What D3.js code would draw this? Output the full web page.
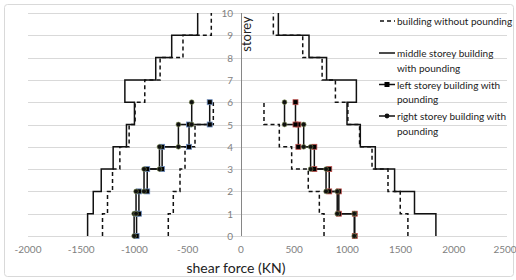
<!DOCTYPE html>
<html>
<head>
<meta charset="utf-8">
<script src="https://cdn.jsdelivr.net/npm/d3@7"></script>
<style>
  html, body { margin: 0; padding: 0; background: #fff; }
  svg { display: block; }
  text { font-family: Lato, "Open Sans", sans-serif; }
</style>
</head>
<body>
<svg id="chart" width="516" height="280"></svg>
<script>
// ---------- data ----------
const storeys = [0, 1, 2, 3, 4, 5, 6, 7, 8, 9, 10];
const xTickValues = [-2000, -1500, -1000, -500, 0, 500, 1000, 1500, 2000, 2500];

// values per storey interval, bottom (0-1) to top
const middleNoPoundNeg = [-1300, -1253, -1206, -1137, -1050, -994, -903, -759, -544, -278];
const middleNoPoundPos = [1569, 1497, 1382, 1232, 1115, 1005, 888, 763, 581, 305];
const sideNoPoundNeg = [-682, -635, -572, -525, -431, -259];
const sideNoPoundPos = [781, 737, 633, 477, 361, 217];
const middlePoundNeg = [-1440, -1387, -1312, -1200, -1075, -1000, -1090, -800, -650, -406];
const middlePoundPos = [1832, 1631, 1444, 1263, 1122, 997, 1085, 805, 640, 352];
const leftPoundNeg = [-980, -958, -880, -740, -487, -293];
const leftPoundPos = [1070, 920, 830, 690, 540, 513];
const rightPoundNeg = [-1003, -985, -910, -765, -587, -462];
const rightPoundPos = [1065, 905, 800, 655, 590, 410];

const legendLabels = [
  ["building without pounding"],
  ["middle storey building", "with pounding"],
  ["left storey building with", "pounding"],
  ["right storey building with", "pounding"]
];

// ---------- setup ----------
const svg = d3.select("#chart");
const x = d3.scaleLinear().domain([-2000, 2500]).range([28, 507]);
const y = d3.scaleLinear().domain([0, 10]).range([236, 13]);

// outer border
svg.append("rect").attr("x", 4.5).attr("y", 4.5).attr("width", 509).attr("height", 272)
  .attr("rx", 3).attr("fill", "none").attr("stroke", "#d9d9d9").attr("stroke-width", 1);

// gridlines
svg.append("g").selectAll("line").data(storeys).join("line")
  .attr("x1", x(-2000)).attr("x2", x(2500))
  .attr("y1", d => Math.round(y(d)) + 0.5).attr("y2", d => Math.round(y(d)) + 0.5)
  .attr("stroke", "#d9d9d9").attr("stroke-width", 1);

// y axis line at x = 0
svg.append("line").attr("x1", Math.round(x(0)) + 0.5).attr("x2", Math.round(x(0)) + 0.5)
  .attr("y1", y(10)).attr("y2", y(0)).attr("stroke", "#868686").attr("stroke-width", 1);

// y tick labels
svg.append("g").selectAll("text").data(storeys).join("text")
  .attr("x", 233).attr("y", d => y(d))
  .attr("text-anchor", "end").attr("dominant-baseline", "central")
  .attr("font-size", 10).attr("fill", "#7f7f7f").text(d => d);

// x tick labels
svg.append("g").selectAll("text").data(xTickValues).join("text")
  .attr("x", d => Math.min(x(d), 505)).attr("y", 249)
  .attr("text-anchor", "middle").attr("dominant-baseline", "central")
  .attr("font-size", 10).attr("fill", "#7f7f7f").text(d => d);

// axis titles
svg.append("text").attr("x", 236).attr("y", 267).attr("text-anchor", "middle")
  .attr("dominant-baseline", "central").attr("font-size", 14).attr("fill", "#222")
  .text("shear force (KN)");
svg.append("text").attr("transform", "translate(246,34) rotate(-90)")
  .attr("text-anchor", "middle").attr("dominant-baseline", "central")
  .attr("font-size", 13).attr("fill", "#222").text("storey");

// ---------- series ----------
function stepPoints(vals) {
  const pts = [];
  vals.forEach((v, i) => { pts.push([v, storeys[i]]); pts.push([v, storeys[i + 1]]); });
  return pts;
}
const line = d3.line().x(d => x(d[0])).y(d => y(d[1]));
const plot = svg.append("g");

[middleNoPoundNeg, middleNoPoundPos, sideNoPoundNeg, sideNoPoundPos].forEach(s => {
  plot.append("path").attr("d", line(stepPoints(s))).attr("fill", "none")
    .attr("stroke", "#111").attr("stroke-width", 1.5).attr("stroke-dasharray", "4,3");
});
[middlePoundNeg, middlePoundPos].forEach(s => {
  plot.append("path").attr("d", line(stepPoints(s))).attr("fill", "none")
    .attr("stroke", "#111").attr("stroke-width", 1.5);
});
[leftPoundNeg, leftPoundPos, rightPoundNeg, rightPoundPos].forEach(s => {
  plot.append("path").attr("d", line(stepPoints(s))).attr("fill", "none")
    .attr("stroke", "#111").attr("stroke-width", 1.5);
});
function squares(s, outline) {
  plot.append("g").selectAll("rect").data(stepPoints(s)).join("rect")
    .attr("x", d => x(d[0]) - 2.5).attr("y", d => y(d[1]) - 2.5)
    .attr("width", 5).attr("height", 5)
    .attr("fill", "#000").attr("stroke", outline).attr("stroke-width", 0.8);
}
function circles(s, outline) {
  plot.append("g").selectAll("circle").data(stepPoints(s)).join("circle")
    .attr("cx", d => x(d[0])).attr("cy", d => y(d[1])).attr("r", 2.4)
    .attr("fill", "#111").attr("stroke", outline).attr("stroke-width", 0.6);
}
squares(leftPoundNeg, "#6f8fc0");
squares(leftPoundPos, "#c0504d");
circles(rightPoundNeg, "#7a8a50");
circles(rightPoundPos, "#7a8a50");

// ---------- legend ----------
const legY = [21, 53, 84.5, 116];
const lg = svg.append("g");
legendLabels.forEach((lines, i) => {
  const yy = legY[i];
  const sym = lg.append("g");
  if (i === 0) {
    sym.append("line").attr("x1", 380).attr("x2", 395).attr("y1", yy).attr("y2", yy)
      .attr("stroke", "#111").attr("stroke-width", 1.5).attr("stroke-dasharray", "4,3");
  } else {
    sym.append("line").attr("x1", 379).attr("x2", 395).attr("y1", yy).attr("y2", yy)
      .attr("stroke", "#111").attr("stroke-width", 1.5);
  }
  if (i === 2) sym.append("rect").attr("x", 384.5).attr("y", yy - 2.5).attr("width", 5).attr("height", 5).attr("fill", "#000");
  if (i === 3) sym.append("circle").attr("cx", 387).attr("cy", yy).attr("r", 2.4).attr("fill", "#111");
  lines.forEach((t, j) => {
    lg.append("text").attr("x", 397).attr("y", yy + j * 14.5)
      .attr("dominant-baseline", "central").attr("font-size", 10).attr("fill", "#222")
      .text(t);
  });
});
</script>
</body>
</html>
